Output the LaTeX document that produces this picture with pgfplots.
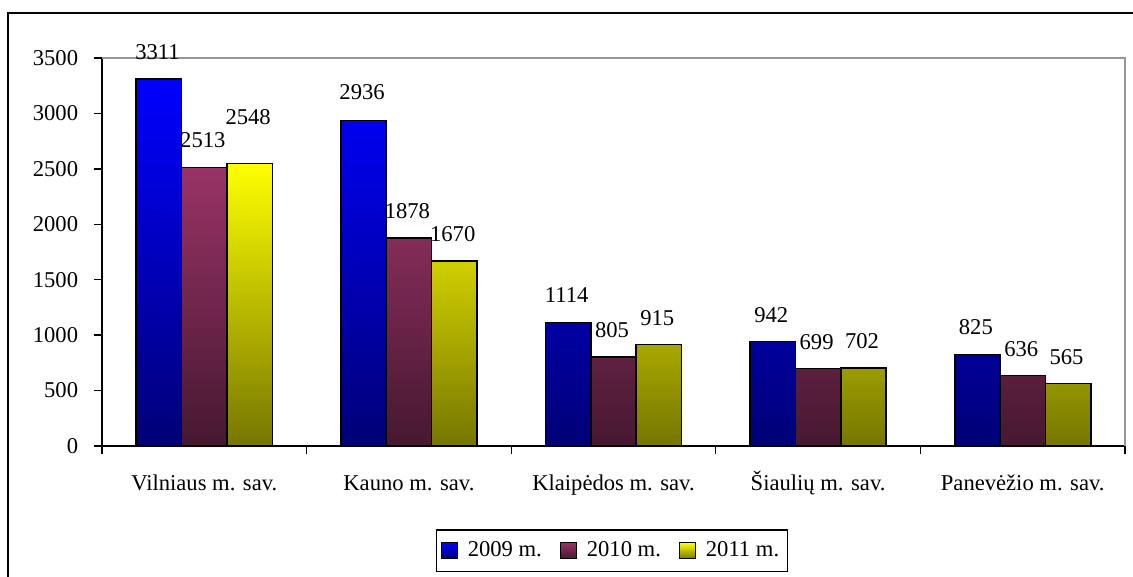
\documentclass[border=0pt]{standalone}
\usepackage{fontspec}
\setmainfont{Liberation Serif}
\usepackage{pgfplots}
\usepackage{pgfplotstable}
\pgfplotsset{compat=1.18}
\definecolor{cBlueT}{RGB}{0,0,255}
\definecolor{cBlueB}{RGB}{0,0,118}
\definecolor{cMarT}{RGB}{153,51,102}
\definecolor{cMarB}{RGB}{70,24,48}
\definecolor{cYelT}{RGB}{255,255,0}
\definecolor{cYelB}{RGB}{118,118,0}
\definecolor{cGrid}{RGB}{150,150,150}
\pgfplotstableread{
x y dy
0 3311 9.5
1 2936 10.5
2 1114 10
3 942 9.5
4 825 10
}\tA
\pgfplotstableread{
x y dy
0 2513 10
1 1878 9.5
2 805 9.5
3 699 9.5
4 636 9.5
}\tB
\pgfplotstableread{
x y dy
0 2548 19.5
1 1670 9.5
2 915 9.5
3 702 10
4 565 9.5
}\tC
\begin{document}
\fontsize{11.3}{13.5}\selectfont
\begin{tikzpicture}
\useasboundingbox (-51pt,-65.5pt) rectangle (515.5pt,223pt);
\begin{axis}[
  at={(0pt,0pt)}, anchor=south west,
  scale only axis, width=511.5pt, height=194pt,
  xmin=-0.5, xmax=4.5, ymin=0, ymax=3500,
  axis lines*=left,
  axis line style={black, line width=0.65pt},
  clip=false,
  ybar=0pt, bar width=22.67pt,
  xtick={0,1,2,3,4},
  xticklabels={Vilniaus m. sav., Kauno m. sav., Klaipėdos m. sav., Šiaulių m. sav., Panevėžio m. sav.},
  minor xtick={-0.5,0.5,1.5,2.5,3.5,4.5},
  ytick={0,500,...,3500},
  tick align=outside,
  major tick length=4pt, minor tick length=4pt,
  major x tick style={draw=none},
  minor x tick style={black, line width=0.65pt},
  ytick style={black, line width=0.65pt},
  /pgf/number format/assume math mode=true,
  /pgf/number format/1000 sep={},
  xticklabel style={anchor=base, yshift=-18pt},
  yticklabel style={xshift=-4pt},
  nodes near coords,
  visualization depends on={\thisrow{dy} \as \labdy},
  every node near coord/.append style={anchor=base, yshift=\labdy pt, xshift=-0.75pt, black},
  legend columns=-1,
  legend style={at={(0.4985,-0.27)}, anchor=center, draw=black, line width=0.65pt,
    inner ysep=3.75pt, inner xsep=2pt,
    /tikz/every odd column/.append style={column sep=3pt},
    /tikz/every even column/.append style={column sep=7pt}},
  legend image code/.code={\draw[#1, line width=0.5pt] (0pt,-4pt) rectangle (8pt,4pt);},
]
\addplot[draw=black, line width=0.8pt, top color=cBlueT, bottom color=cBlueB] table[x=x,y=y] {\tA};
\addplot[draw=black, line width=0.8pt, top color=cMarT, bottom color=cMarB] table[x=x,y=y] {\tB};
\addplot[draw=black, line width=0.8pt, top color=cYelT, bottom color=cYelB] table[x=x,y=y] {\tC};
\legend{2009 m., 2010 m., 2011 m.}
\draw[cGrid, line width=0.6pt] (rel axis cs:0,1) -- (rel axis cs:1,1) -- (rel axis cs:1,0);
\end{axis}
\draw[line width=0.9pt] (-47pt,-66pt) -- (-47pt,216.5pt) -- (516pt,216.5pt);
\end{tikzpicture}
\end{document}
